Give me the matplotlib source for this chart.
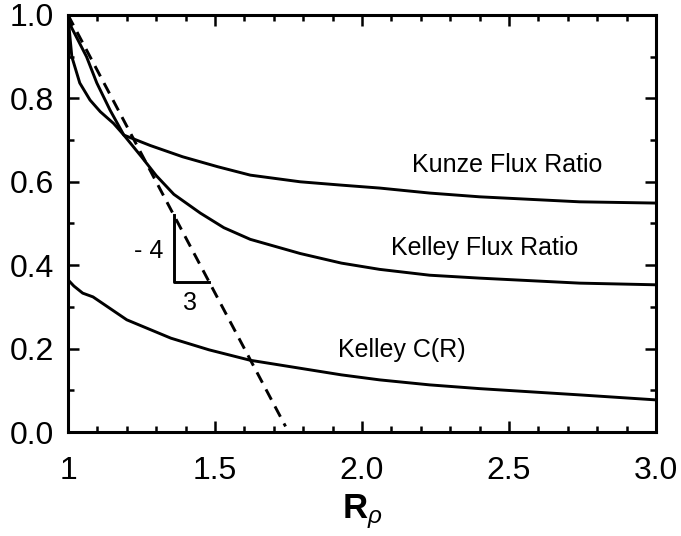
import matplotlib
matplotlib.use("Agg")
import matplotlib.pyplot as plt
from matplotlib.ticker import MultipleLocator, FixedLocator

plt.rcParams["font.family"] = ["Liberation Sans", "DejaVu Sans"]
plt.rcParams["mathtext.fontset"] = "custom"
plt.rcParams["mathtext.rm"] = "Liberation Sans"
plt.rcParams["mathtext.it"] = "Liberation Sans:italic"
plt.rcParams["mathtext.bf"] = "Liberation Sans:bold"

# ── Curves (R_rho vs ratio) ────────────────────────────────────────────────
kunze_x = [1.0, 1.005, 1.013, 1.04, 1.075, 1.11, 1.155, 1.19, 1.28, 1.39,
           1.51, 1.62, 1.79, 1.93, 2.06, 2.23, 2.40, 2.74, 3.0]
kunze_y = [1.0, 0.96, 0.90, 0.837, 0.796, 0.768, 0.74, 0.712, 0.687, 0.66,
           0.636, 0.616, 0.60, 0.592, 0.585, 0.573, 0.564, 0.552, 0.549]

kelley_flux_x = [1.0, 1.012, 1.063, 1.098, 1.143, 1.19, 1.25, 1.30, 1.36,
                 1.45, 1.53, 1.62, 1.79, 1.93, 2.06, 2.23, 2.40, 2.74, 3.0]
kelley_flux_y = [1.0, 0.97, 0.90, 0.837, 0.772, 0.712, 0.66, 0.615, 0.57,
                 0.525, 0.49, 0.462, 0.428, 0.405, 0.39, 0.376, 0.369, 0.357,
                 0.353]

kelley_cr_x = [1.0, 1.02, 1.05, 1.085, 1.2, 1.35, 1.48, 1.62, 1.93, 2.06,
               2.23, 2.40, 2.74, 3.0]
kelley_cr_y = [0.365, 0.35, 0.333, 0.324, 0.269, 0.225, 0.197, 0.172, 0.137,
               0.125, 0.113, 0.104, 0.089, 0.077]

# -4/3 reference slope and its triangle
slope_x = [1.0, 1.74]
slope_y = [1.0, 1.0 - 4.0 / 3.0 * 0.74]
tri_x = [1.36, 1.36, 1.48]
tri_y = [0.52, 0.36, 0.36]

x_ticks = [1.0, 1.5, 2.0, 2.5, 3.0]
x_ticklabels = ["1", "1.5", "2.0", "2.5", "3.0"]
y_ticks = [0.0, 0.2, 0.4, 0.6, 0.8, 1.0]
y_ticklabels = ["0.0", "0.2", "0.4", "0.6", "0.8", "1.0"]

fig = plt.figure(figsize=(6.81, 5.36), dpi=100)
ax = fig.add_axes([68 / 681, (536 - 432) / 536, (656 - 68) / 681, (432 - 15) / 536])

lw = 2.1
ax.plot(kunze_x, kunze_y, color="black", lw=lw)
ax.plot(kelley_flux_x, kelley_flux_y, color="black", lw=lw)
ax.plot(kelley_cr_x, kelley_cr_y, color="black", lw=lw)
ax.plot(slope_x, slope_y, color="black", lw=lw, dashes=(4, 2.6))
ax.plot(tri_x, tri_y, color="black", lw=lw)

txt = dict(fontsize=18, color="black", va="center")
ax.text(2.493, 0.640, "Kunze Flux Ratio", ha="center", **txt)
ax.text(2.418, 0.441, "Kelley Flux Ratio", ha="center", **txt)
ax.text(2.136, 0.197, "Kelley C(R)", ha="center", **txt)
ax.text(1.325, 0.434, "- 4", ha="right", **txt)
ax.text(1.415, 0.309, "3", ha="center", **txt)

ax.set_xlim(1.0, 3.0)
ax.set_ylim(0.0, 1.0)
ax.xaxis.set_major_locator(FixedLocator(x_ticks))
ax.set_xticklabels(x_ticklabels)
ax.yaxis.set_major_locator(FixedLocator(y_ticks))
ax.set_yticklabels(y_ticklabels)
ax.xaxis.set_minor_locator(MultipleLocator(0.1))
ax.yaxis.set_minor_locator(MultipleLocator(0.1))

ax.tick_params(which="both", direction="in", top=True, right=True,
               width=1.8, labelsize=23)
ax.tick_params(which="major", length=8)
ax.tick_params(which="minor", length=4)
ax.tick_params(axis="x", which="major", pad=17)
ax.tick_params(axis="y", which="major", pad=10)
for sp in ax.spines.values():
    sp.set_linewidth(2.2)

ax.set_xlabel(r"$\mathbf{R}_{\rho}$", fontsize=25, labelpad=5)

fig.savefig("out.png", dpi=100)
